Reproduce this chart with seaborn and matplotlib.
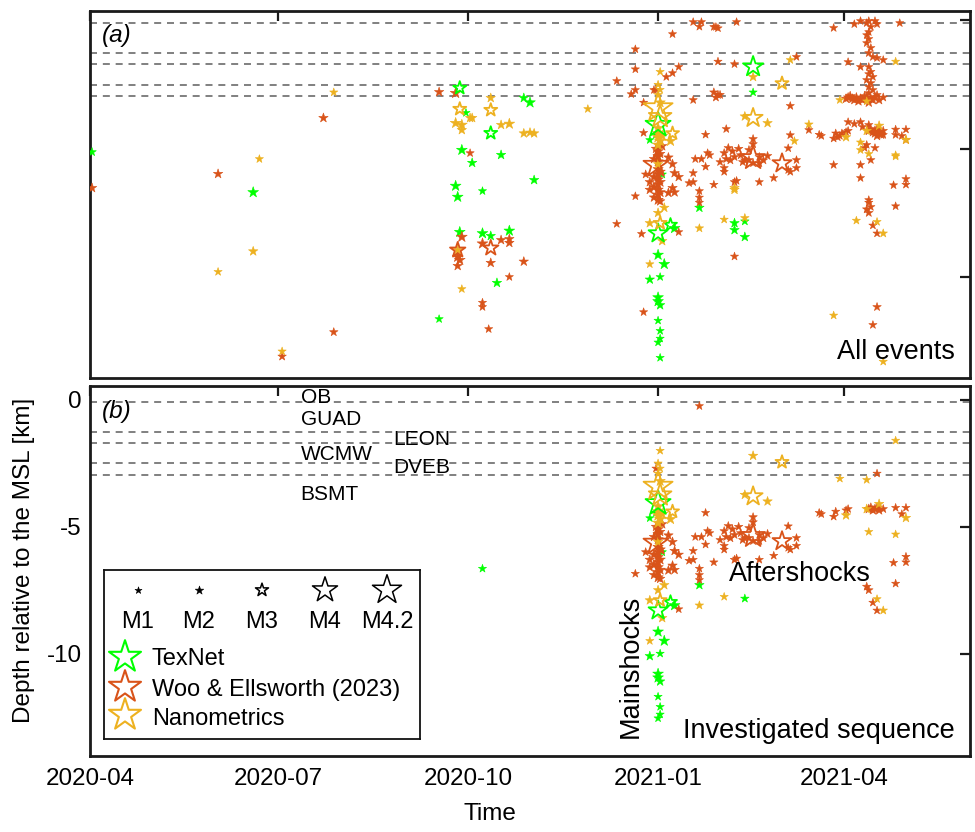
import numpy as np
import pandas as pd
import matplotlib
matplotlib.use("Agg")
import matplotlib.pyplot as plt
import seaborn as sns

# ---------------------------------------------------------------------------
# Earthquake catalogues: (origin date, depth relative to MSL [km], magnitude)
# "sequence" events belong to the investigated sequence, "other" events are
# only part of the full catalogue shown in panel (a).
# ---------------------------------------------------------------------------
texnet_sequence = [
    ("2020-10-08", -6.65, 1.8), ("2020-12-28", -4.66, 1.8), ("2020-12-31", -4.45, 2.0),
    ("2021-01-01", -4.07, 4.0), ("2021-01-01", -5.30, 2.0), ("2021-01-03", -6.00, 2.0),
    ("2021-01-01", -8.30, 3.5), ("2021-01-07", -7.97, 3.0), ("2021-01-09", -8.10, 2.5),
    ("2021-01-01", -9.14, 2.5), ("2021-01-04", -9.50, 2.5), ("2020-12-28", -10.10, 2.2),
    ("2021-01-02", -10.00, 1.8), ("2021-01-01", -10.80, 2.5), ("2021-01-01", -10.95, 2.5),
    ("2021-01-02", -11.10, 2.2), ("2021-01-01", -11.70, 1.8), ("2021-01-02", -12.10, 1.8),
    ("2021-01-02", -12.40, 1.8), ("2021-01-01", -12.55, 1.8), ("2021-01-21", -7.30, 2.2),
    ("2021-02-12", -7.83, 2.0),
]
texnet_other = [
    ("2020-04-02", -5.13, 2.0), ("2020-06-19", -6.70, 2.5), ("2020-09-27", -2.63, 3.0),
    ("2020-10-28", -3.02, 2.2), ("2020-10-31", -3.20, 2.5), ("2020-09-30", -3.60, 1.8),
    ("2020-10-12", -4.39, 3.0), ("2020-09-28", -5.05, 2.5), ("2020-10-17", -5.24, 2.2),
    ("2020-10-03", -5.55, 2.2), ("2020-11-02", -6.22, 2.2), ("2020-09-25", -6.45, 2.5),
    ("2020-09-26", -6.88, 2.5), ("2020-09-27", -8.25, 2.5), ("2020-10-08", -8.30, 2.5),
    ("2020-10-12", -8.40, 2.2), ("2020-10-21", -8.20, 2.5), ("2020-10-15", -10.23, 2.2),
    ("2020-09-17", -11.64, 1.8), ("2021-02-16", -1.80, 3.6), ("2021-02-16", -2.80, 1.8),
    ("2021-02-07", -7.90, 2.2), ("2021-02-07", -8.17, 2.2), ("2021-02-12", -8.44, 2.2),
    ("2021-01-02", -13.15, 1.8),
]

woo_sequence = [
    # mainshock column
    ("2021-01-01", -5.10, 2.4), ("2021-01-01", -5.30, 2.4), ("2021-01-01", -5.50, 2.4),
    ("2021-01-01", -5.80, 2.4), ("2021-01-01", -6.00, 2.4), ("2021-01-01", -6.20, 2.4),
    ("2021-01-01", -6.40, 2.4), ("2021-01-01", -6.60, 2.4), ("2021-01-01", -6.80, 2.4),
    ("2021-01-01", -7.00, 2.4), ("2020-12-30", -5.40, 2.2), ("2020-12-30", -6.10, 2.4),
    ("2020-12-30", -6.50, 2.4), ("2020-12-30", -6.90, 2.2), ("2021-01-02", -5.20, 2.2),
    ("2021-01-02", -5.90, 2.4), ("2021-01-02", -6.30, 2.4), ("2021-01-02", -6.70, 2.4),
    ("2021-01-02", -7.05, 2.2), ("2020-12-31", -5.63, 4.0), ("2021-01-06", -5.34, 2.2),
    ("2021-01-08", -5.60, 2.2), ("2020-12-26", -6.00, 2.0), ("2021-01-09", -5.95, 2.2),
    ("2021-01-11", -6.10, 2.2), ("2021-01-08", -6.53, 2.2), ("2021-01-09", -6.70, 2.2),
    ("2021-01-06", -6.72, 2.2), ("2020-12-21", -6.85, 1.8), ("2020-12-28", -6.60, 2.2),
    ("2020-12-28", -6.30, 2.2), ("2021-01-11", -8.25, 1.8), ("2020-12-31", -2.70, 1.8),
    ("2021-01-03", -4.90, 2.2), ("2020-12-31", -5.00, 2.2),
    # aftershocks
    ("2021-01-24", -4.45, 1.8), ("2021-01-25", -5.17, 1.8), ("2021-01-26", -5.25, 1.8),
    ("2021-01-22", -5.40, 1.8), ("2021-01-19", -5.40, 1.8), ("2021-01-24", -5.70, 1.8),
    ("2021-01-18", -5.95, 1.8), ("2021-01-18", -6.30, 1.8), ("2021-01-16", -6.34, 1.8),
    ("2021-01-21", -6.65, 1.8), ("2021-01-28", -6.40, 1.8), ("2021-01-31", -5.52, 1.8),
    ("2021-02-02", -5.75, 1.8), ("2021-02-02", -5.90, 1.8), ("2021-02-04", -4.97, 2.0),
    ("2021-02-02", -5.17, 2.0), ("2021-02-07", -5.32, 2.0), ("2021-02-11", -5.52, 2.0),
    ("2021-02-14", -5.44, 2.0), ("2021-02-16", -5.56, 2.0), ("2021-02-19", -5.32, 2.0),
    ("2021-02-23", -5.28, 2.0), ("2021-02-19", -5.56, 2.0), ("2021-02-16", -4.82, 2.0),
    ("2021-02-16", -4.62, 2.0), ("2021-02-07", -6.30, 2.0), ("2021-02-08", -6.25, 1.8),
    ("2021-02-19", -6.30, 1.8), ("2021-02-26", -6.14, 1.8), ("2021-03-05", -5.83, 1.8),
    ("2021-03-06", -5.90, 1.8), ("2021-03-09", -5.75, 1.8), ("2021-03-09", -5.44, 1.8),
    ("2021-03-05", -4.98, 1.8), ("2021-02-16", -5.36, 3.9), ("2021-03-02", -5.57, 3.5),
    ("2021-01-21", -7.10, 1.8), ("2021-01-21", -6.90, 1.8), ("2021-03-20", -4.45, 1.8),
    ("2021-03-21", -4.50, 1.8), ("2021-03-27", -4.60, 1.8), ("2021-03-28", -4.40, 1.8),
    ("2021-04-02", -4.35, 1.8), ("2021-04-03", -4.30, 1.8), ("2021-04-13", -4.30, 2.2),
    ("2021-04-14", -4.25, 2.2), ("2021-04-15", -4.35, 2.2), ("2021-04-16", -4.30, 2.2),
    ("2021-04-17", -4.25, 2.2), ("2021-04-18", -4.35, 2.2), ("2021-04-20", -4.30, 2.0),
    ("2021-04-26", -4.25, 1.8), ("2021-05-01", -4.25, 1.8), ("2021-04-29", -4.50, 1.8),
    ("2021-04-25", -6.42, 1.8), ("2021-05-01", -6.18, 1.8), ("2021-05-01", -6.40, 1.8),
    ("2021-04-26", -7.24, 1.8), ("2021-04-12", -7.36, 2.0), ("2021-04-13", -7.50, 2.0),
    ("2021-04-15", -7.99, 1.8), ("2021-04-17", -8.30, 1.8), ("2021-01-21", -0.24, 1.8),
    ("2021-04-17", -2.90, 1.8), ("2021-02-06", -5.10, 2.0), ("2021-02-09", -5.00, 2.0),
    ("2021-02-12", -5.45, 2.0), ("2021-02-03", -5.40, 2.0), ("2021-02-10", -5.25, 2.0),
    ("2021-02-05", -5.45, 2.0), ("2021-02-21", -5.45, 2.0), ("2021-02-14", -5.05, 2.0),
]
woo_other = [
    ("2020-04-02", -6.53, 2.2), ("2020-06-02", -5.98, 2.2), ("2020-07-23", -3.80, 2.2),
    ("2020-07-28", -12.15, 2.0), ("2020-07-03", -13.10, 2.0), ("2020-09-17", -2.79, 2.2),
    ("2020-09-25", -2.83, 2.5), ("2020-10-02", -5.17, 1.8), ("2020-12-12", -7.93, 1.8),
    ("2020-09-28", -8.44, 2.5), ("2020-10-08", -8.70, 2.5), ("2020-10-12", -8.87, 3.2),
    ("2020-10-17", -8.56, 2.2), ("2020-10-21", -8.52, 2.2), ("2020-10-21", -8.67, 2.2),
    ("2020-09-26", -8.95, 3.2), ("2020-09-26", -9.22, 2.5), ("2020-09-27", -9.34, 2.5),
    ("2020-09-26", -9.57, 2.2), ("2020-10-12", -9.45, 2.2), ("2020-10-28", -9.40, 2.2),
    ("2020-10-21", -10.00, 1.8), ("2020-10-08", -11.00, 1.8), ("2020-10-08", -11.17, 1.8),
    ("2020-10-11", -12.03, 1.8), ("2020-12-12", -2.36, 1.8), ("2020-12-19", -2.87, 1.8),
    ("2020-12-21", -2.71, 1.8), ("2020-12-21", -1.12, 1.8), ("2020-12-21", -1.90, 1.8),
    ("2020-12-25", -3.20, 1.8), ("2020-12-25", -4.38, 1.8), ("2020-12-24", -8.32, 1.8),
    ("2020-12-25", -11.37, 1.8), ("2021-01-08", -0.53, 1.8), ("2020-12-30", -2.71, 1.8),
    ("2021-01-05", -2.20, 1.8), ("2021-01-08", -2.05, 1.8), ("2021-01-11", -1.81, 1.8),
    ("2021-01-18", -3.10, 1.8), ("2021-01-18", -0.06, 1.8), ("2021-01-22", -0.06, 1.8),
    ("2021-01-28", -0.25, 1.8), ("2021-01-29", -0.25, 1.8), ("2021-01-30", -0.30, 1.8),
    ("2021-01-30", -1.60, 1.8), ("2021-01-28", -2.80, 2.0), ("2021-01-30", -2.90, 2.0),
    ("2021-01-31", -2.90, 2.0), ("2021-01-29", -3.00, 2.0), ("2021-02-03", -4.23, 1.8),
    ("2021-02-08", -0.06, 1.8), ("2021-02-07", -1.70, 1.8), ("2021-03-09", -1.42, 1.8),
    ("2021-03-06", -3.33, 1.8), ("2021-03-06", -4.47, 1.8), ("2021-02-07", -9.20, 1.8),
    ("2021-03-27", -5.63, 1.8), ("2021-04-09", -5.63, 1.8), ("2021-04-09", -6.14, 1.8),
    ("2021-04-02", -3.05, 2.2), ("2021-04-03", -3.00, 2.2), ("2021-04-04", -2.95, 2.2),
    ("2021-04-05", -3.05, 2.2), ("2021-04-06", -3.10, 2.2), ("2021-04-07", -3.00, 2.2),
    ("2021-04-08", -3.15, 2.2), ("2021-04-09", -3.05, 2.2), ("2021-04-10", -3.10, 2.2),
    ("2021-04-11", -2.95, 2.2), ("2021-04-12", -3.00, 2.2), ("2021-04-13", -3.20, 2.2),
    ("2021-04-14", -3.05, 2.2), ("2021-04-15", -3.10, 2.2), ("2021-04-16", -3.00, 2.2),
    ("2021-04-18", -3.10, 2.2), ("2021-04-20", -3.00, 2.0),
    ("2021-04-09", -0.02, 1.8), ("2021-04-12", -0.10, 1.8), ("2021-04-13", -0.02, 1.8),
    ("2021-04-16", -0.02, 1.8), ("2021-04-17", -0.14, 1.8), ("2021-04-14", -0.25, 1.8),
    ("2021-04-13", -0.45, 1.8), ("2021-04-12", -0.57, 1.8), ("2021-04-13", -0.72, 1.8),
    ("2021-04-12", -0.88, 1.8), ("2021-04-14", -1.07, 1.8), ("2021-04-13", -1.27, 1.8),
    ("2021-04-15", -1.42, 1.8), ("2021-04-17", -1.46, 1.8), ("2021-04-20", -1.54, 1.8),
    ("2021-04-13", -1.81, 1.8), ("2021-04-14", -2.00, 1.8), ("2021-04-13", -2.09, 1.8),
    ("2021-04-15", -2.20, 1.8), ("2021-04-12", -2.32, 1.8), ("2021-04-14", -2.44, 1.8),
    ("2021-04-13", -2.59, 1.8), ("2021-04-15", -2.71, 1.8), ("2021-04-13", -2.83, 1.8),
    ("2021-04-06", -0.14, 1.8), ("2021-03-27", -0.29, 1.8), ("2021-04-28", -0.10, 1.8),
    ("2021-04-03", -1.62, 1.8), ("2021-04-09", -1.81, 1.8), ("2021-04-03", -3.96, 1.8),
    ("2021-04-06", -4.03, 1.8), ("2021-04-09", -3.96, 1.8), ("2021-04-10", -4.15, 1.8),
    ("2021-04-13", -4.07, 1.8), ("2021-04-16", -4.40, 2.2), ("2021-04-17", -4.50, 2.2),
    ("2021-04-19", -4.45, 2.2), ("2021-04-12", -4.85, 1.8), ("2021-04-11", -4.97, 1.8),
    ("2021-04-14", -5.44, 1.8), ("2021-04-16", -4.97, 1.8), ("2021-04-13", -7.00, 1.8),
    ("2021-04-13", -7.10, 1.8), ("2021-04-14", -7.27, 1.8), ("2021-04-17", -11.17, 2.0),
    ("2021-04-15", -11.87, 1.8), ("2021-04-26", -4.46, 1.8), ("2021-05-01", -4.66, 1.8),
    ("2021-04-20", -4.46, 1.8), ("2021-03-15", -4.27, 1.8), ("2021-03-30", -4.50, 1.8),
    ("2021-03-31", -4.40, 1.8), ("2021-03-29", -4.55, 1.8),
]

nanometrics_sequence = [
    ("2021-01-01", -3.41, 4.2), ("2021-01-02", -3.75, 3.8), ("2021-01-02", -2.00, 1.8),
    ("2021-01-01", -2.50, 1.8), ("2021-01-02", -2.70, 1.8), ("2021-01-01", -2.90, 2.0),
    ("2021-01-01", -4.40, 2.6), ("2021-01-01", -4.55, 2.6), ("2021-01-02", -4.70, 2.6),
    ("2021-01-01", -4.85, 2.6), ("2021-01-03", -4.50, 2.6), ("2021-01-08", -4.40, 3.0),
    ("2021-01-07", -4.70, 2.5), ("2021-01-01", -5.60, 2.2), ("2021-01-04", -7.30, 2.2),
    ("2021-01-01", -7.50, 2.2), ("2020-12-28", -7.90, 2.2), ("2021-01-02", -7.90, 3.0),
    ("2021-01-03", -8.60, 2.2), ("2020-12-28", -9.50, 1.8), ("2021-01-21", -8.10, 2.0),
    ("2021-02-02", -7.76, 1.8), ("2021-02-12", -3.74, 2.2), ("2021-02-16", -3.80, 3.5),
    ("2021-02-23", -4.00, 2.2), ("2021-02-16", -2.20, 2.2), ("2021-03-02", -2.45, 3.0),
    ("2021-03-30", -3.10, 1.8), ("2021-04-12", -3.15, 1.8), ("2021-04-26", -1.60, 1.8),
    ("2021-04-02", -4.55, 2.2), ("2021-04-12", -4.30, 2.2), ("2021-04-18", -4.10, 2.2),
    ("2021-05-01", -4.65, 2.2), ("2021-04-13", -5.20, 1.8), ("2021-04-26", -5.30, 1.8),
    ("2021-04-17", -7.85, 1.8), ("2021-04-20", -8.30, 2.0), ("2021-01-01", -4.20, 2.6),
    ("2021-01-02", -3.20, 2.4),
]
nanometrics_other = [
    ("2020-06-22", -5.40, 1.8), ("2020-06-19", -9.00, 2.2), ("2020-06-02", -9.80, 1.8),
    ("2020-07-28", -2.80, 1.8), ("2020-07-03", -12.90, 1.8), ("2020-10-12", -3.02, 2.2),
    ("2020-09-27", -3.45, 3.0), ("2020-10-12", -3.49, 3.0), ("2020-10-02", -3.80, 2.2),
    ("2020-10-03", -3.80, 2.2), ("2020-09-25", -4.00, 2.5), ("2020-09-28", -4.07, 2.5),
    ("2020-09-28", -4.27, 2.2), ("2020-10-17", -4.07, 2.2), ("2020-10-21", -4.03, 2.5),
    ("2020-10-28", -4.40, 2.2), ("2020-10-31", -4.37, 2.2), ("2020-11-02", -4.40, 2.2),
    ("2020-11-28", -3.45, 1.8), ("2020-09-28", -10.47, 1.8), ("2020-09-26", -8.95, 2.2),
    ("2021-03-06", -1.54, 1.8), ("2021-03-08", -4.70, 1.8), ("2021-02-07", -6.53, 2.2),
    ("2021-02-07", -6.60, 2.2), ("2021-02-12", -7.70, 2.0), ("2021-03-15", -4.05, 2.0),
    ("2021-04-09", -4.75, 1.8), ("2021-04-09", -5.05, 1.8), ("2021-04-07", -7.80, 1.8),
    ("2021-03-27", -11.50, 1.8), ("2021-04-20", -13.30, 1.8), ("2021-04-26", -5.25, 1.8),
]

catalog_names = ["TexNet", "Woo & Ellsworth (2023)", "Nanometrics"]
catalog_colors = ["#00FF00", "#D95319", "#EDB120"]

# Seismic station depths [km] and their names
station_names = ["OB", "GUAD", "LEON", "WCMW", "DVEB", "BSMT"]
station_label_dates = ["2020-07-12", "2020-07-12", "2020-08-26", "2020-07-12", "2020-08-26", "2020-07-12"]
station_label_depths = [0.08, -0.77, -1.57, -2.15, -2.68, -3.74]
reference_depths = [-0.1, -1.25, -1.7, -2.5, -2.95]

xtick_dates = ["2020-04-01", "2020-07-01", "2020-10-01", "2021-01-01", "2021-04-01"]
xtick_labels = ["2020-04", "2020-07", "2020-10", "2021-01", "2021-04"]
ytick_values = [0, -5, -10]

legend_magnitudes = [1, 2, 3, 4, 4.2]
legend_mag_labels = ["M1", "M2", "M3", "M4", "M4.2"]


def to_frame(rows, catalog, in_sequence):
    df = pd.DataFrame(rows, columns=["time", "depth", "mag"])
    df["time"] = pd.to_datetime(df["time"])
    df["catalog"] = catalog
    df["sequence"] = in_sequence
    return df


events = pd.concat([
    to_frame(texnet_sequence, catalog_names[0], True),
    to_frame(texnet_other, catalog_names[0], False),
    to_frame(woo_sequence, catalog_names[1], True),
    to_frame(woo_other, catalog_names[1], False),
    to_frame(nanometrics_sequence, catalog_names[2], True),
    to_frame(nanometrics_other, catalog_names[2], False),
], ignore_index=True)


def star_area(mag):
    """Marker area (pt^2) for a star whose width grows with magnitude."""
    width_px = np.interp(mag, [1, 2, 3, 4, 4.2], [7, 8.5, 13, 25, 29])
    ms = width_px * 0.72 / 0.95
    return ms ** 2


OPEN_MAG = 2.8
INK = "#000000"

sns.set_theme(style="white")
plt.rcParams["font.family"] = ["Liberation Sans", "DejaVu Sans"]
plt.rcParams["axes.unicode_minus"] = False
plt.rcParams["text.color"] = INK
plt.rcParams["axes.labelcolor"] = INK
plt.rcParams["xtick.color"] = INK
plt.rcParams["ytick.color"] = INK

fig = plt.figure(figsize=(9.75, 8.32), dpi=100)
fig.patch.set_facecolor("white")
ax_top = fig.add_axes([0.09231, 0.54567, 0.90256, 0.44111])
ax_bot = fig.add_axes([0.09231, 0.09135, 0.90256, 0.44471])


def draw_events(ax, df):
    for name, color in zip(catalog_names, catalog_colors):
        sub = df[df["catalog"] == name]
        small = sub[sub["mag"] < OPEN_MAG]
        big = sub[sub["mag"] >= OPEN_MAG]
        if len(small):
            sns.scatterplot(data=small, x="time", y="depth", marker="*",
                            s=star_area(small["mag"].to_numpy()), color=color,
                            edgecolor=color, linewidth=0.4, legend=False,
                            ax=ax, zorder=3)
        if len(big):
            sns.scatterplot(data=big, x="time", y="depth", marker="*",
                            s=star_area(big["mag"].to_numpy()), color=color,
                            facecolor="none", edgecolor=color, linewidth=1.3,
                            legend=False, ax=ax, zorder=4)


draw_events(ax_top, events)
draw_events(ax_bot, events[events["sequence"]])

xlim = (pd.Timestamp("2020-04-01"), pd.Timestamp("2021-06-01"))
for ax, ylim in ((ax_top, (-13.94, 0.37)), (ax_bot, (-14.04, 0.55))):
    for d in reference_depths:
        ax.axhline(d, color="#808080", lw=1.4, ls=(0, (3.6, 3.0)), zorder=1)
    ax.set_xlim(*xlim)
    ax.set_ylim(*ylim)
    ax.set_xticks(pd.to_datetime(xtick_dates))
    ax.set_xticklabels(xtick_labels)
    ax.set_yticks(ytick_values)
    ax.set_yticklabels([str(v) for v in ytick_values])
    ax.tick_params(direction="in", length=7, width=1.6, colors="#1a1a1a",
                   labelcolor=INK, top=True, right=True, labelsize=17.4, pad=6)
    ax.tick_params(axis="x", pad=9)
    for sp in ax.spines.values():
        sp.set_linewidth(2.0)
        sp.set_color("#1a1a1a")
        sp.set_visible(True)
    ax.set_xlabel("")
    ax.set_ylabel("")
    ax.set_facecolor("white")

ax_top.tick_params(labelbottom=False, labelleft=False)

# Panel labels and annotations
ax_top.text(0.0136, 0.932, "(a)", transform=ax_top.transAxes, fontsize=17.5,
            style="italic", ha="left", va="center")
ax_bot.text(0.0136, 0.930, "(b)", transform=ax_bot.transAxes, fontsize=17.5,
            style="italic", ha="left", va="center")
ax_top.text(0.983, 0.052, "All events", transform=ax_top.transAxes,
            fontsize=19.5, ha="right", va="baseline")
ax_bot.text(0.983, 0.049, "Investigated sequence", transform=ax_bot.transAxes,
            fontsize=19.5, ha="right", va="baseline")
ax_bot.text(0.807, 0.492, "Aftershocks", transform=ax_bot.transAxes,
            fontsize=19.5, ha="center", va="center")
ax_bot.text(0.615, 0.243, "Mainshocks", transform=ax_bot.transAxes,
            fontsize=19.5, ha="center", va="center", rotation=90)

for name, date, depth in zip(station_names, station_label_dates, station_label_depths):
    ax_bot.text(pd.Timestamp(date), depth, name, fontsize=15, ha="left",
                va="center", zorder=5)

ax_bot.set_xlabel("Time", fontsize=17.5)
ax_bot.xaxis.set_label_coords(0.455, -0.128)
ax_bot.set_ylabel("Depth relative to the MSL [km]", fontsize=17.5)
ax_bot.yaxis.set_label_coords(-0.0625, 0.53)

# Legend box: magnitude scale on top, catalogues below
leg = fig.add_axes([104 / 975, 1 - 739 / 832, 316 / 975, 169 / 832])
leg.set_xlim(0, 316)
leg.set_ylim(169, 0)
leg.set_xticks([])
leg.set_yticks([])
leg.set_facecolor("white")
for sp in leg.spines.values():
    sp.set_linewidth(1.3)
    sp.set_color("#111111")

mag_x = [34, 95, 158, 221, 283]
for x, m, lab in zip(mag_x, legend_magnitudes, legend_mag_labels):
    if m < OPEN_MAG:
        leg.scatter([x], [20], marker="*", s=star_area(m), color="black",
                    edgecolor="black", linewidth=0.4)
    else:
        leg.scatter([x], [20], marker="*", s=star_area(m), facecolor="none",
                    edgecolor="black", linewidth=1.1)
    leg.text(x, 52, lab, fontsize=17, ha="center", va="center")

cat_star_y = [87, 117, 145]
cat_text_y = [89, 120, 149]
for name, color, ys, yt in zip(catalog_names, catalog_colors, cat_star_y, cat_text_y):
    leg.scatter([21], [ys], marker="*", s=(32 * 0.72 / 0.95) ** 2,
                facecolor="none", edgecolor=color, linewidth=1.5)
    leg.text(48, yt, name, fontsize=17, ha="left", va="center")

fig.savefig("out.png", dpi=100, facecolor="white")
